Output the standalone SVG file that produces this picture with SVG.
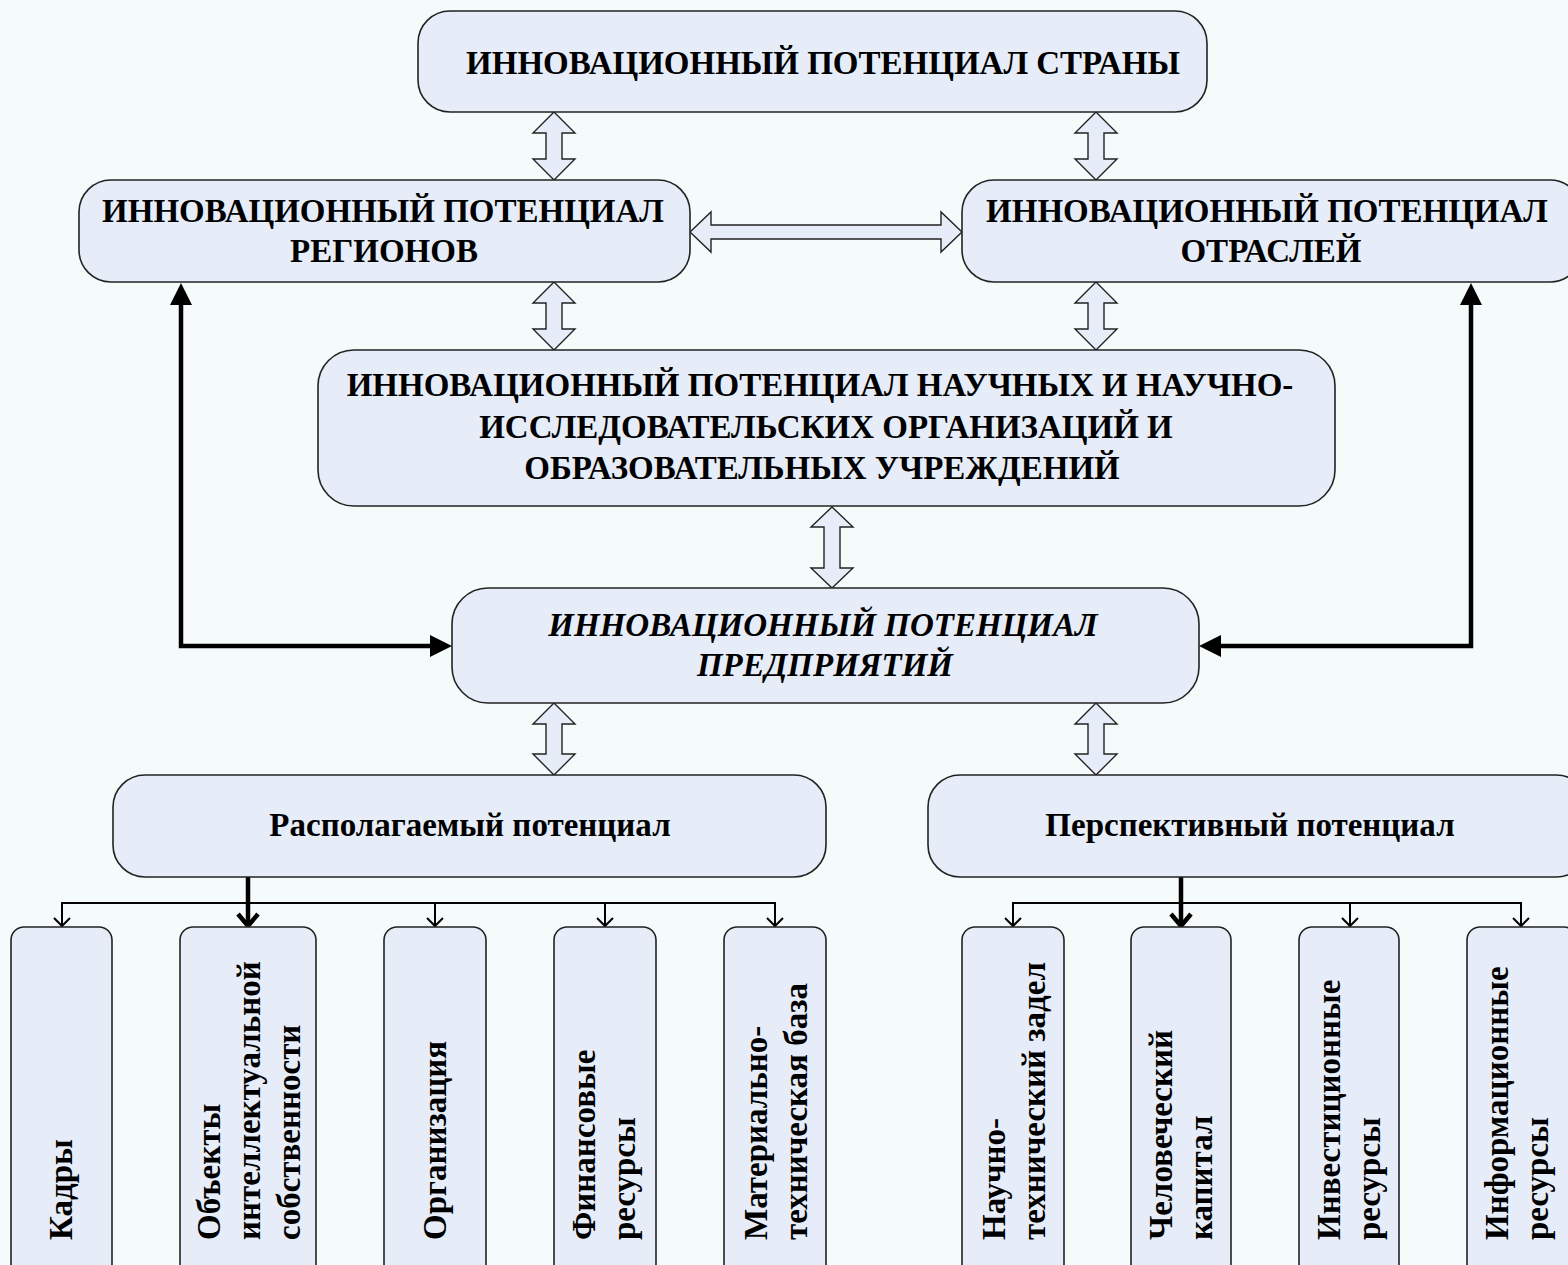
<svg xmlns="http://www.w3.org/2000/svg" width="1568" height="1265" viewBox="0 0 1568 1265">
<defs>
<style>
.bg{fill:#F5FBFB}
.box{fill:#E7EDF8;stroke:#222;stroke-width:1.6}
.t{font-family:"Liberation Serif","Times New Roman",serif;font-weight:bold;font-size:33px;fill:#000}
.c{text-anchor:middle}
.it{font-style:italic}
.barrow{fill:#E7EDF8;stroke:#222;stroke-width:1.4;stroke-linejoin:miter}
.thick{fill:none;stroke:#000;stroke-width:4.5}
.thin{fill:none;stroke:#000;stroke-width:2}
.head{fill:#000;stroke:none}
</style>
</defs>
<rect class="bg" x="0" y="0" width="1568" height="1265"/>

<g id="connectors">
  <!-- hollow double block arrows -->
  <path class="barrow" d="M554,112 L575,133 L562,133 L562,159 L575,159 L554,180 L533,159 L546,159 L546,133 L533,133 Z"/>
  <path class="barrow" d="M1096,112 L1117,133 L1104,133 L1104,159 L1117,159 L1096,180 L1075,159 L1088,159 L1088,133 L1075,133 Z"/>
  <path class="barrow" d="M554,282 L575,303 L562,303 L562,329 L575,329 L554,350 L533,329 L546,329 L546,303 L533,303 Z"/>
  <path class="barrow" d="M1096,282 L1117,303 L1104,303 L1104,329 L1117,329 L1096,350 L1075,329 L1088,329 L1088,303 L1075,303 Z"/>
  <path class="barrow" d="M832,507 L853,527 L840,527 L840,568 L853,568 L832,588 L811,568 L824,568 L824,527 L811,527 Z"/>
  <path class="barrow" d="M554,703 L575,724 L562,724 L562,754 L575,754 L554,775 L533,754 L546,754 L546,724 L533,724 Z"/>
  <path class="barrow" d="M1096,703 L1117,724 L1104,724 L1104,754 L1117,754 L1096,775 L1075,754 L1088,754 L1088,724 L1075,724 Z"/>
  <path class="barrow" d="M690,232 L711,212 L711,225 L941,225 L941,212 L962,232 L941,252 L941,239 L711,239 L711,252 Z"/>

  <!-- thick feedback arrows -->
  <path class="thick" d="M431,646 H181 V304"/>
  <polygon class="head" points="181,283 170,305 192,305"/>
  <polygon class="head" points="452,646 430,635 430,657"/>
  <path class="thick" d="M1220,646 H1471 V304"/>
  <polygon class="head" points="1471,283 1460,305 1482,305"/>
  <polygon class="head" points="1199,646 1221,635 1221,657"/>

  <!-- left tree -->
  <path class="thick" d="M248,877 V926"/>
  <path class="thick" d="M238,914 L248,926 L258,914"/>
  <path class="thin" d="M62,926 V903 H775 V926 M435,903 V926 M605,903 V926"/>
  <path class="thin" d="M54,918 L62,926 L70,918 M427,918 L435,926 L443,918 M597,918 L605,926 L613,918 M767,918 L775,926 L783,918"/>

  <!-- right tree -->
  <path class="thick" d="M1181,877 V926"/>
  <path class="thick" d="M1171,914 L1181,926 L1191,914"/>
  <path class="thin" d="M1013,926 V903 H1521 V926 M1350,903 V926"/>
  <path class="thin" d="M1005,918 L1013,926 L1021,918 M1342,918 L1350,926 L1358,918 M1513,918 L1521,926 L1529,918"/>
</g>

<g id="country">
  <rect class="box" x="418" y="11" width="789" height="101" rx="32"/>
  <text class="t c" x="823" y="74">ИННОВАЦИОННЫЙ ПОТЕНЦИАЛ СТРАНЫ</text>
</g>
<g id="regions">
  <rect class="box" x="79" y="180" width="611" height="102" rx="32"/>
  <text class="t c" x="383" y="222">ИННОВАЦИОННЫЙ ПОТЕНЦИАЛ</text>
  <text class="t c" x="384" y="262">РЕГИОНОВ</text>
</g>
<g id="branches">
  <rect class="box" x="962" y="180" width="620" height="102" rx="32"/>
  <text class="t c" x="1267" y="222">ИННОВАЦИОННЫЙ ПОТЕНЦИАЛ</text>
  <text class="t c" x="1271" y="262">ОТРАСЛЕЙ</text>
</g>
<g id="science">
  <rect class="box" x="318" y="350" width="1017" height="156" rx="36"/>
  <text class="t c" x="820" y="396">ИННОВАЦИОННЫЙ ПОТЕНЦИАЛ НАУЧНЫХ И НАУЧНО-</text>
  <text class="t c" x="826" y="438">ИССЛЕДОВАТЕЛЬСКИХ ОРГАНИЗАЦИЙ И</text>
  <text class="t c" x="822" y="479">ОБРАЗОВАТЕЛЬНЫХ УЧРЕЖДЕНИЙ</text>
</g>
<g id="enterprise">
  <rect class="box" x="452" y="588" width="747" height="115" rx="36"/>
  <text class="t c it" x="823" y="636">ИННОВАЦИОННЫЙ ПОТЕНЦИАЛ</text>
  <text class="t c it" x="825" y="676">ПРЕДПРИЯТИЙ</text>
</g>
<g id="available">
  <rect class="box" x="113" y="775" width="713" height="102" rx="32"/>
  <text class="t c" x="470" y="836">Располагаемый потенциал</text>
</g>
<g id="perspective">
  <rect class="box" x="928" y="775" width="660" height="102" rx="32"/>
  <text class="t c" x="1250" y="836">Перспективный потенциал</text>
</g>

<g id="kadry">
  <rect class="box" x="11" y="927" width="101" height="380" rx="13"/>
  <text class="t" transform="translate(72,1240) rotate(-90)">Кадры</text>
</g>
<g id="objects">
  <rect class="box" x="180" y="927" width="136" height="380" rx="13"/>
  <text class="t" transform="translate(220,1240) rotate(-90)"><tspan x="0" y="0">Объекты</tspan><tspan x="0" dy="40">интеллектуальной</tspan><tspan x="0" dy="40">собственности</tspan></text>
</g>
<g id="organization">
  <rect class="box" x="384" y="927" width="102" height="380" rx="13"/>
  <text class="t" transform="translate(446,1240) rotate(-90)">Организация</text>
</g>
<g id="finance">
  <rect class="box" x="554" y="927" width="102" height="380" rx="13"/>
  <text class="t" transform="translate(595,1240) rotate(-90)"><tspan x="0" y="0">Финансовые</tspan><tspan x="0" dy="40">ресурсы</tspan></text>
</g>
<g id="material">
  <rect class="box" x="724" y="927" width="102" height="380" rx="13"/>
  <text class="t" transform="translate(767,1240) rotate(-90)"><tspan x="0" y="0">Материально-</tspan><tspan x="0" dy="40">техническая база</tspan></text>
</g>
<g id="scientific">
  <rect class="box" x="962" y="927" width="102" height="380" rx="13"/>
  <text class="t" transform="translate(1005,1240) rotate(-90)"><tspan x="0" y="0">Научно-</tspan><tspan x="0" dy="40">технический задел</tspan></text>
</g>
<g id="human">
  <rect class="box" x="1131" y="927" width="100" height="380" rx="13"/>
  <text class="t" transform="translate(1172,1240) rotate(-90)"><tspan x="0" y="0">Человеческий</tspan><tspan x="0" dy="40">капитал</tspan></text>
</g>
<g id="investment">
  <rect class="box" x="1299" y="927" width="100" height="380" rx="13"/>
  <text class="t" transform="translate(1340,1240) rotate(-90)"><tspan x="0" y="0">Инвестиционные</tspan><tspan x="0" dy="40">ресурсы</tspan></text>
</g>
<g id="information">
  <rect class="box" x="1467" y="927" width="110" height="380" rx="13"/>
  <text class="t" transform="translate(1508,1240) rotate(-90)"><tspan x="0" y="0">Информационные</tspan><tspan x="0" dy="40">ресурсы</tspan></text>
</g>
</svg>
